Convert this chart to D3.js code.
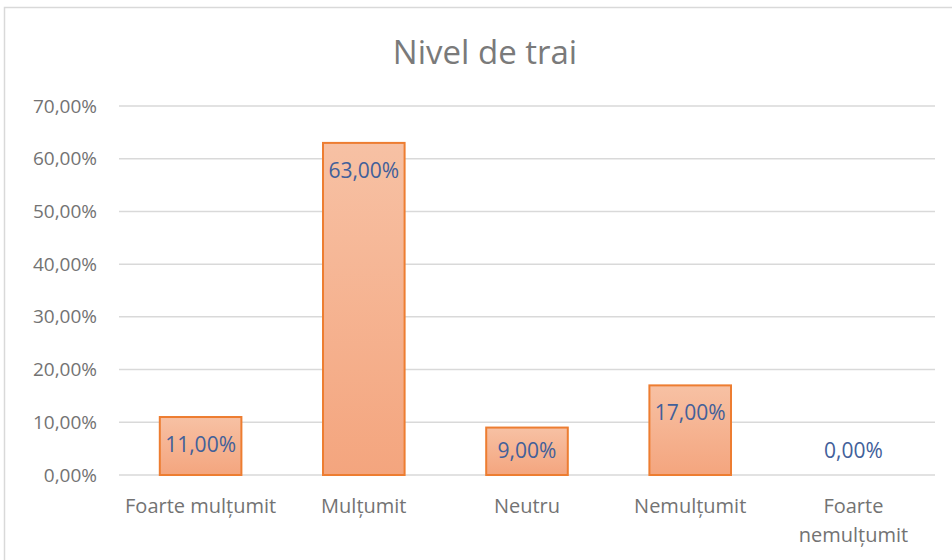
<!DOCTYPE html>
<html>
<head>
<meta charset="utf-8">
<script src="https://cdn.jsdelivr.net/npm/d3@7"></script>
<style>
  body { margin: 0; background: #fff; }
  svg text { font-family: "Open Sans", "Noto Sans", sans-serif; }
</style>
</head>
<body>
<div id="chart"></div>
<script>
// categorii si valori (procente)
const categories = ['Foarte mulțumit', 'Mulțumit', 'Neutru', 'Nemulțumit', 'Foarte nemulțumit'];
const values = [11, 63, 9, 17, 0];
const yTicks = [0, 10, 20, 30, 40, 50, 60, 70];

const W = 952, H = 560;
const margin = { top: 106, right: 17, bottom: 85, left: 119 };

const svg = d3.select('#chart').append('svg')
  .attr('width', W)
  .attr('height', H);

// chenarul graficului
svg.append('rect')
  .attr('x', 4.5).attr('y', 7.5)
  .attr('width', W + 10).attr('height', H + 10)
  .attr('fill', '#fff')
  .attr('stroke', '#d9d9d9')
  .attr('stroke-width', 1.5);

const defs = svg.append('defs');
const grad = defs.append('linearGradient')
  .attr('id', 'barGrad')
  .attr('x1', 0).attr('y1', 0).attr('x2', 0).attr('y2', 1);
grad.append('stop').attr('offset', '0%').attr('stop-color', '#f7c1a4');
grad.append('stop').attr('offset', '100%').attr('stop-color', '#f4a57e');

const x = d3.scaleBand()
  .domain(categories)
  .range([margin.left, W - margin.right])
  .paddingInner(0.5)
  .paddingOuter(0.25);

const y = d3.scaleLinear()
  .domain([0, 70])
  .range([H - margin.bottom, margin.top]);

// titlu
svg.append('text')
  .attr('x', 485).attr('y', 64)
  .attr('text-anchor', 'middle')
  .attr('fill', '#7a7a7a')
  .style('font-size', '33px')
  .text('Nivel de trai');

// linii de grila
svg.append('g')
  .selectAll('line')
  .data(yTicks)
  .enter().append('line')
  .attr('x1', margin.left)
  .attr('x2', W - margin.right)
  .attr('y1', d => y(d))
  .attr('y2', d => y(d))
  .attr('stroke', '#d9d9d9')
  .attr('stroke-width', 1.5);

// axa y
const yAxis = svg.append('g')
  .attr('transform', `translate(${margin.left - 22},0)`)
  .call(d3.axisLeft(y).tickValues(yTicks).tickSize(0).tickPadding(0)
    .tickFormat(d => d3.format('.2f')(d).replace('.', ',') + '%'));
yAxis.select('.domain').remove();
yAxis.selectAll('text')
  .attr('fill', '#737373')
  .style('font-size', '19px');

// bare
svg.append('g')
  .selectAll('rect')
  .data(values)
  .enter().append('rect')
  .filter(d => d > 0)
  .attr('x', (d, i) => x(categories[values.indexOf(d)]))
  .attr('y', d => y(d))
  .attr('width', x.bandwidth())
  .attr('height', d => y(0) - y(d))
  .attr('fill', 'url(#barGrad)')
  .attr('stroke', '#ed7d31')
  .attr('stroke-width', 2);

// etichete de date
svg.append('g')
  .selectAll('text')
  .data(values)
  .enter().append('text')
  .attr('x', (d, i) => x(categories[i]) + x.bandwidth() / 2)
  .attr('y', d => Math.min(y(d) + 35, y(0) - 17))
  .attr('text-anchor', 'middle')
  .attr('fill', '#42609a')
  .style('font-size', '21px')
  .text(d => d3.format('.2f')(d).replace('.', ',') + '%');

// axa x
const xAxis = svg.append('g')
  .attr('transform', `translate(0,${y(0)})`)
  .call(d3.axisBottom(x).tickSize(0).tickPadding(0));
xAxis.select('.domain').remove();
xAxis.selectAll('text').remove();

const xl = svg.append('g');
categories.forEach((c, i) => {
  const cx = x(c) + x.bandwidth() / 2;
  const lines = c === 'Foarte nemulțumit' ? ['Foarte', 'nemulțumit'] : [c];
  const t = xl.append('text')
    .attr('x', cx)
    .attr('y', 513)
    .attr('text-anchor', 'middle')
    .attr('fill', '#737373')
    .style('font-size', '20px');
  lines.forEach((l, k) => {
    t.append('tspan').attr('x', cx).attr('dy', k ? 29 : 0).text(l);
  });
});
</script>
</body>
</html>
